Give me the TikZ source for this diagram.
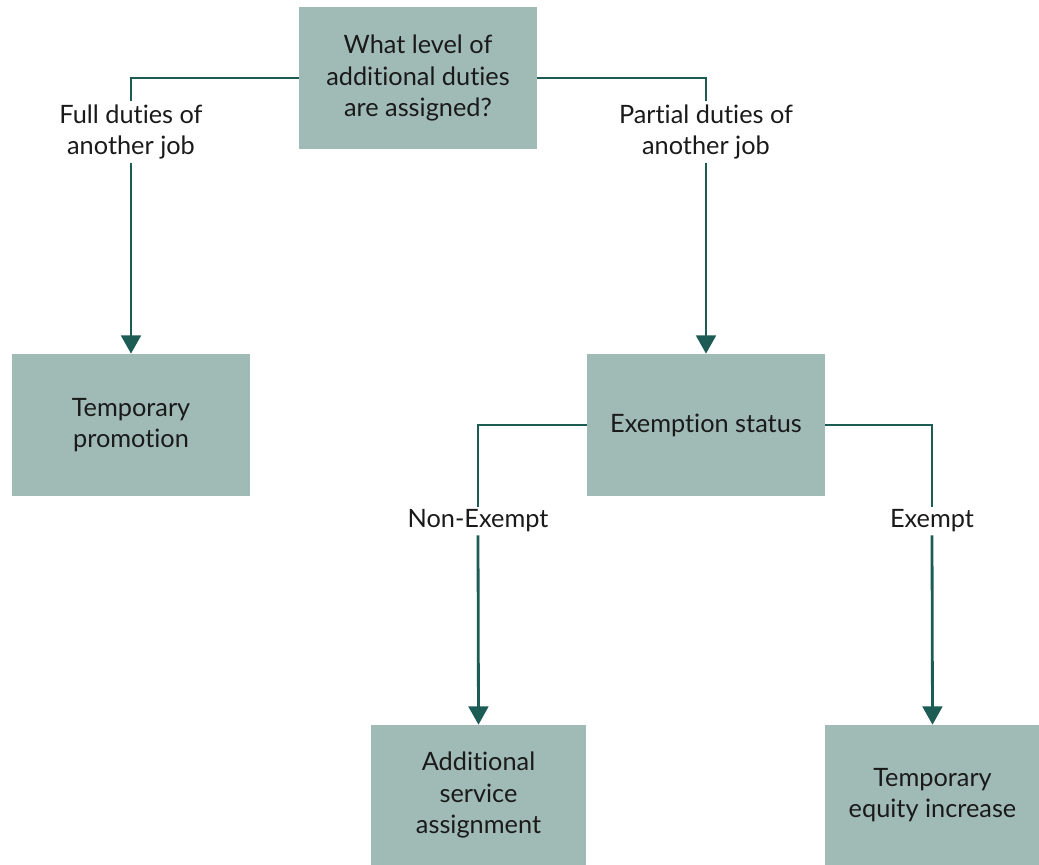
\documentclass[tikz,border=0pt]{standalone}
\usepackage{fontspec}
\setmainfont{Lato}[RawFeature={-liga;-clig;-calt;-dlig;-rlig}]
\usetikzlibrary{arrows.meta, positioning}
\definecolor{boxfill}{HTML}{A0BBB5}
\definecolor{linkteal}{HTML}{1D5C54}
\definecolor{textgray}{HTML}{1A1A1A}
\begin{document}
\begin{tikzpicture}[x=0.025cm, y=-0.025cm,
  >={Triangle[length=13pt, width=14pt]},
  box/.style={fill=boxfill, text=textgray, align=center, inner sep=0pt,
    minimum width=5.95cm, minimum height=3.55cm, font=\fontsize{18}{22.5}\selectfont},
  smallbox/.style={box, minimum width=5.35cm, minimum height=3.5cm},
  choice/.style={text=textgray, align=center, inner sep=2pt,
    font=\fontsize{18}{22.5}\selectfont},
  link/.style={draw=linkteal, line width=2pt}]
\useasboundingbox (0,0) rectangle (1039,865);

% boxes
\node[box] (question) at (418,78) {What level of\\additional duties\\are assigned?};
\node[box] (promo) at (131,425) {Temporary\\promotion};
\node[box] (status) at (706,425) {Exemption status};
\node[smallbox] (service) at (478.5,795) {Additional\\service\\assignment};
\node[smallbox] (equity) at (932.5,795) {Temporary\\equity increase};

% labels on the branches
\node[choice] (full) at (131,132) {Full duties of\\another job};
\node[choice] (partial) at (706,132) {Partial duties of\\another job};
\node[choice] (nonexempt) at (478,521) {Non-Exempt};
\node[choice] (exempt) at (932,521) {Exempt};

% connectors
\draw[link] (question.west) -| (full.north);
\draw[link, ->] (full.south) -- (promo.north);
\draw[link] (question.east) -| (partial.north);
\draw[link, ->] (partial.south) -- (status.north);
\draw[link] (status.west) -| (nonexempt.north);
\draw[link, ->] (nonexempt.south) -- (service.north);
\draw[link] (status.east) -| (exempt.north);
\draw[link, ->] (exempt.south) -- (equity.north);

\end{tikzpicture}
\end{document}
